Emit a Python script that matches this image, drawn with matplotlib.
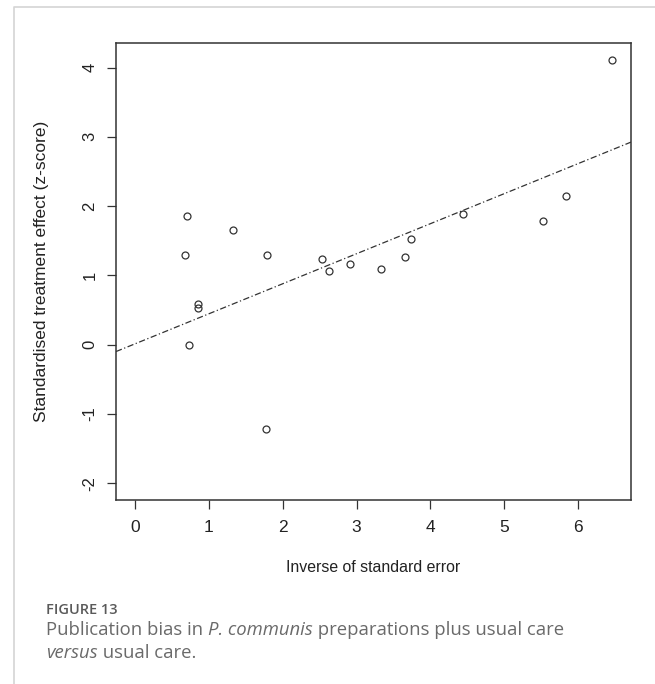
import matplotlib
matplotlib.use("Agg")
import matplotlib.pyplot as plt
from matplotlib import font_manager
from matplotlib.lines import Line2D

# Egger-style plot: z-score against precision
inv_se = [0.70, 1.32, 0.68, 1.79, 2.53, 2.63, 2.91, 3.33, 3.65, 3.74, 4.44,
          0.85, 0.85, 0.73, 1.78, 5.52, 5.84, 6.46]
z_score = [1.86, 1.65, 1.30, 1.29, 1.23, 1.06, 1.17, 1.09, 1.27, 1.52, 1.89,
           0.59, 0.53, 0.00, -1.22, 1.79, 2.14, 4.11]

# regression line drawn on the chart
line_intercept = 0.011
line_slope = 0.4335

x_ticks = [0, 1, 2, 3, 4, 5, 6]
y_ticks = [-2, -1, 0, 1, 2, 3, 4]
y_low = -2

x_label = "Inverse of standard error"
y_label = "Standardised treatment effect (z-score)"
fig_label = "FIGURE 13"
# caption pieces: (text, italic?)
caption_line1 = [("Publication bias in ", False), ("P. communis", True),
                 (" preparations plus usual care", False)]
caption_line2 = [("versus", True), (" usual care.", False)]

installed = {f.name for f in font_manager.fontManager.ttflist}
narrow = "Liberation Sans Narrow" if "Liberation Sans Narrow" in installed else "Liberation Sans"
plain = "Liberation Sans"
cap_font = "Open Sans"
xlab_size = 13 if narrow != plain else 11.4

W, H = 655, 684
fig = plt.figure(figsize=(W / 100, H / 100), dpi=100)

# axes box in pixels: left 116, right 631, top 43, bottom 500
ax = fig.add_axes([116 / W, 1 - 500 / H, 515 / W, 457 / H])

ax.plot(inv_se, z_score, linestyle="none", marker="o", markersize=5,
        markerfacecolor="none", markeredgecolor="#333333", markeredgewidth=0.9)
ax.axline((0, line_intercept), slope=line_slope, color="#333333", lw=0.9,
          linestyle=(0, (5, 2, 1, 2)))

# R-style 4% padding around the data range
x_hi = max(inv_se)
x_pad = 0.04 * x_hi
ax.set_xlim(-x_pad, x_hi + x_pad)
y_hi = max(z_score)
y_pad = 0.04 * (y_hi - y_low)
ax.set_ylim(y_low - y_pad, y_hi + y_pad)

ax.set_xticks(x_ticks)
ax.set_yticks(y_ticks)
ax.set_xticklabels([str(v) for v in x_ticks], fontfamily=narrow, fontsize=12.5, color="#222222")
ax.set_yticklabels([str(v) for v in y_ticks], fontfamily=plain, fontsize=12,
                   color="#222222", rotation=90, va="center")
ax.tick_params(direction="out", length=6.5, width=0.9, color="#333333")
ax.tick_params(axis="x", pad=8)
ax.tick_params(axis="y", pad=7)
for s in ax.spines.values():
    s.set_color("#333333")
    s.set_linewidth(1.1)

fig.text(373 / W, 1 - 568 / H, x_label, ha="center", va="center",
         fontfamily=narrow, fontsize=xlab_size, color="#222222")
fig.text(42 / W, 1 - 271 / H, y_label, ha="center", va="center", rotation=90,
         fontfamily=plain, fontsize=12.5, color="#222222")

# caption
fig.text(46 / W, 1 - 610 / H, fig_label, ha="left", va="center",
         fontfamily=cap_font, fontweight="semibold", fontsize=10.5, color="#5a5a5a")

renderer = fig.canvas.get_renderer()


def caption_row(pieces, y_px):
    x_px = 46
    for txt, italic in pieces:
        t = fig.text(x_px / W, 1 - y_px / H, txt, ha="left", va="center",
                     fontfamily=cap_font, fontsize=13.3, color="#6a6a6a",
                     style="italic" if italic else "normal")
        x_px += t.get_window_extent(renderer).width


caption_row(caption_line1, 630)
caption_row(caption_line2, 653)

# light page frame at top-left
fig.add_artist(Line2D([14 / W, 14 / W, 1], [0, 1 - 7 / H, 1 - 7 / H],
                      transform=fig.transFigure, color="#d4d4d4", lw=1.2))

fig.savefig("out.png", dpi=100)
